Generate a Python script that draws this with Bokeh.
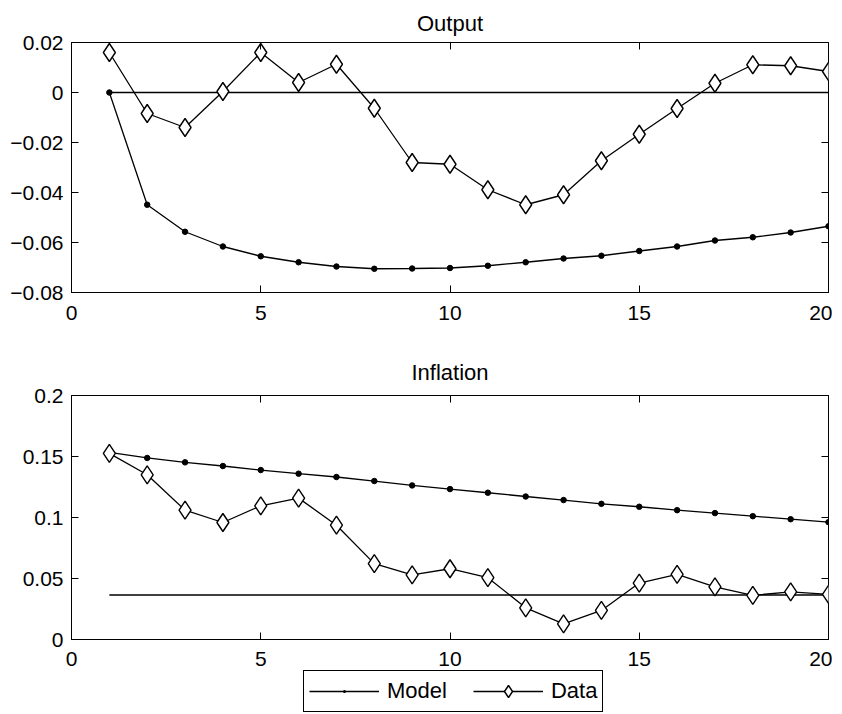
from bokeh.plotting import figure
from bokeh.layouts import column
from bokeh.models import (LinearAxis, FixedTicker, CustomJSTickFormatter, Legend,
                          LegendItem, Range1d)
from bokeh.embed import file_html
from bokeh.resources import INLINE

periods = list(range(1, 21))

output_model = [0.0, -0.0449, -0.0557, -0.0616, -0.0655, -0.0679, -0.0696, -0.0705,
                -0.0704, -0.0702, -0.0693, -0.0679, -0.0664, -0.0653, -0.0634, -0.0616,
                -0.0592, -0.0579, -0.0560, -0.0535]
output_data = [0.0160, -0.0084, -0.0140, 0.0004, 0.0160, 0.0040, 0.0113, -0.0063,
               -0.0280, -0.0287, -0.0389, -0.0449, -0.0409, -0.0273, -0.0167, -0.0064,
               0.0037, 0.0111, 0.0107, 0.0084]
output_ss = 0.0

inflation_model = [0.1534, 0.1488, 0.1452, 0.1422, 0.1389, 0.1359, 0.1332, 0.1299,
                   0.1263, 0.1233, 0.1203, 0.1172, 0.1143, 0.1112, 0.1088, 0.1060,
                   0.1036, 0.1011, 0.0986, 0.0962]
inflation_data = [0.1526, 0.1350, 0.1060, 0.0959, 0.1096, 0.1159, 0.0937, 0.0622,
                  0.0529, 0.0580, 0.0507, 0.0260, 0.0128, 0.0238, 0.0463, 0.0534,
                  0.0432, 0.0362, 0.0391, 0.0370]
inflation_ss = 0.0365

x_ticks = [0, 5, 10, 15, 20]
output_ticks = [-0.08, -0.06, -0.04, -0.02, 0, 0.02]
inflation_ticks = [0, 0.05, 0.1, 0.15, 0.2]
legend_labels = ["Model", "Data"]

FONT = "Liberation Sans"
FS = "21px"

fmt_code = """
var s = Math.abs(tick).toFixed(2).replace(/0+$/, '').replace(/\\.$/, '');
if (s === '') { s = '0'; }
return (tick < -1e-12 ? '\\u2212' : '') + s;
"""
blank_code = "return '';"

MODEL_LINE = dict(line_color="black", line_width=1.3)
MODEL_DOT = dict(marker="circle", size=5.5, fill_color="black", line_color="black")
DATA_LINE = dict(line_color="black", line_width=1.3)
DATA_DIAM = dict(marker="diamond", size=18, fill_color="white", line_color="black",
                 line_width=1.4)


def make_fig(title, yr, yticks, height, border_top, border_bottom, standoff, xstand):
    p = figure(frame_width=757, frame_height=height, x_range=Range1d(0, 20),
               y_range=Range1d(*yr), output_backend="svg", toolbar_location=None,
               min_border_left=71, min_border_right=4, min_border_top=border_top,
               min_border_bottom=border_bottom, title=title)
    p.title.align = "center"
    p.title.text_font = FONT
    p.title.text_font_size = "22px"
    p.title.text_font_style = "normal"
    p.title.text_color = "black"
    p.title.standoff = standoff
    p.xgrid.visible = False
    p.ygrid.visible = False
    p.outline_line_color = "black"
    p.outline_line_width = 1
    p.outline_line_alpha = 1
    p.background_fill_color = "white"
    p.border_fill_color = "white"

    for ax in (p.xaxis[0], p.yaxis[0]):
        ax.major_tick_in = 7
        ax.major_tick_out = 0
        ax.minor_tick_line_color = None
        ax.major_label_text_font = FONT
        ax.major_label_text_font_size = FS
        ax.major_label_text_color = "black"
        ax.axis_line_color = "black"
        ax.major_tick_line_color = "black"
    p.xaxis[0].ticker = FixedTicker(ticks=x_ticks)
    p.xaxis[0].major_label_standoff = xstand
    p.yaxis[0].ticker = FixedTicker(ticks=yticks)
    p.yaxis[0].formatter = CustomJSTickFormatter(code=fmt_code)
    p.yaxis[0].major_label_standoff = 8

    top = LinearAxis(ticker=FixedTicker(ticks=x_ticks), major_tick_in=7, major_tick_out=0,
                     minor_tick_line_color=None, formatter=CustomJSTickFormatter(code=blank_code),
                     major_label_standoff=0, axis_line_color=None)
    right = LinearAxis(ticker=FixedTicker(ticks=yticks), major_tick_in=7, major_tick_out=0,
                       minor_tick_line_color=None, formatter=CustomJSTickFormatter(code=blank_code),
                       major_label_standoff=0, axis_line_color=None)
    p.add_layout(top, "above")
    p.add_layout(right, "right")
    return p


p1 = make_fig("Output", (-0.08, 0.02), output_ticks, 250, 42, 38, 14, 13)
p1.line(periods, [output_ss] * len(periods), line_color="black", line_width=1.6)
p1.line(periods, output_model, **MODEL_LINE)
p1.scatter(periods, output_model, **MODEL_DOT)
p1.line(periods, output_data, **DATA_LINE)
p1.scatter(periods, output_data, **DATA_DIAM)

p2 = make_fig("Inflation", (0, 0.2), inflation_ticks, 244, 65, 30, 21, 12)
p2.line(periods, [inflation_ss] * len(periods), line_color="black", line_width=1.6)
p2.line(periods, inflation_model, **MODEL_LINE)
p2.scatter(periods, inflation_model, **MODEL_DOT)
p2.line(periods, inflation_data, **DATA_LINE)
p2.scatter(periods, inflation_data, **DATA_DIAM)

# legend strip below the lower panel; its series sit outside its (empty) view
p3 = figure(frame_width=832, frame_height=45, x_axis_type=None, y_axis_type=None,
            x_range=Range1d(100, 101), y_range=Range1d(100, 101), output_backend="svg",
            toolbar_location=None, min_border=0, outline_line_color=None)
p3.xgrid.visible = False
p3.ygrid.visible = False
lm_line = p3.line(periods, inflation_model, **MODEL_LINE)
lm_dot = p3.scatter(periods, inflation_model, marker="dot", size=18,
                    line_color="black", fill_color="black", line_width=2)
ld_line = p3.line(periods, inflation_data, **DATA_LINE)
ld_diam = p3.scatter(periods, inflation_data, **DATA_DIAM)

legend = Legend(items=[LegendItem(label=legend_labels[0], renderers=[lm_line, lm_dot]),
                       LegendItem(label=legend_labels[1], renderers=[ld_line, ld_diam])],
                orientation="horizontal", location=(303, 2), glyph_width=70,
                glyph_height=30, label_standoff=8, spacing=26, padding=5, margin=0,
                border_line_color="black", border_line_width=1, border_line_alpha=1,
                label_text_font=FONT, label_text_font_size="22px",
                label_text_color="black", background_fill_color="white",
                background_fill_alpha=1)
p3.add_layout(legend, "center")

layout = column(p1, p2, p3, spacing=0)
open("out.html", "w").write(file_html(layout, INLINE))
